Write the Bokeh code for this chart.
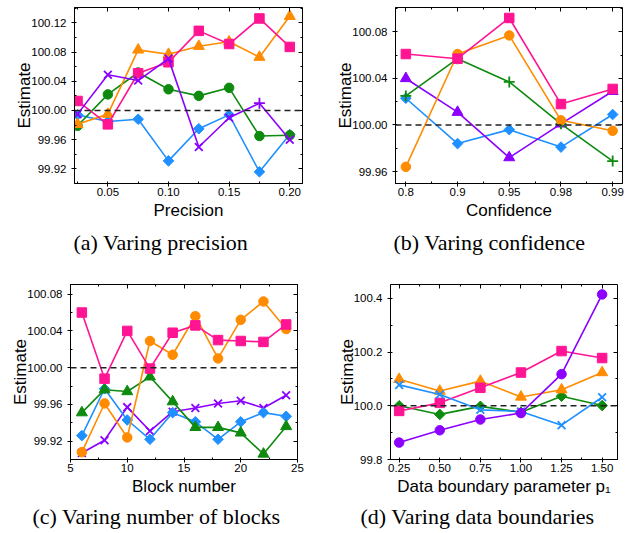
import numpy as np
from bokeh.plotting import figure
from bokeh.layouts import column, row
from bokeh.models import (Span, LinearAxis, Title, Range1d, SingleIntervalTicker,
                          NumeralTickFormatter, ColumnDataSource, CustomJSTickFormatter)
from bokeh.embed import file_html
from bokeh.resources import INLINE

# ---------------- data ----------------
# (a) varying precision
a_x = [0.025, 0.05, 0.075, 0.10, 0.125, 0.15, 0.175, 0.20]
a_pink = [100.013, 99.981, 100.051, 100.066, 100.109, 100.091, 100.126, 100.087]
a_orange = [99.981, 99.995, 100.083, 100.077, 100.088, 100.094, 100.073, 100.129]
a_green = [99.979, 100.022, 100.052, 100.029, 100.020, 100.031, 99.965, 99.966]
a_blue = [99.994, 99.985, 99.988, 99.931, 99.975, 99.994, 99.916, 99.967]
a_purple = [99.995, 100.049, 100.041, 100.071, 99.950, 99.990, 100.010, 99.960]
a_purple_markers = ["x", "x", "x", "x", "x", "x", "cross", "x"]

# (b) varying confidence
b_labels = ["0.8", "0.9", "0.95", "0.98", "0.99"]
b_pink = [100.061, 100.057, 100.092, 100.018, 100.031]
b_orange = [99.964, 100.061, 100.077, 100.004, 99.995]
b_green = [100.025, 100.057, 100.037, 100.001, 99.969]
b_purple = [100.040, 100.011, 99.972, 100.001, 100.029]
b_blue = [100.023, 99.984, 99.996, 99.981, 100.009]

# (c) varying number of blocks
c_x = [6, 8, 10, 12, 14, 16, 18, 20, 22, 24]
c_pink = [100.060, 99.988, 100.040, 99.999, 100.038, 100.046, 100.030, 100.029, 100.028, 100.047]
c_orange = [99.908, 99.961, 99.924, 100.029, 100.014, 100.056, 100.010, 100.052, 100.072, 100.042]
c_green = [99.951, 99.976, 99.974, 99.990, 99.963, 99.935, 99.935, 99.929, 99.906, 99.936]
c_blue = [99.926, 99.977, 99.943, 99.922, 99.951, 99.941, 99.922, 99.941, 99.951, 99.947]
c_purple = [99.907, 99.921, 99.957, 99.931, 99.952, 99.956, 99.961, 99.964, 99.956, 99.970]

# (d) varying data boundaries
d_x = [0.25, 0.50, 0.75, 1.00, 1.25, 1.50]
d_pink = [99.981, 100.011, 100.067, 100.124, 100.204, 100.178]
d_orange = [100.099, 100.055, 100.092, 100.033, 100.060, 100.124]
d_green = [100.000, 99.968, 99.998, 99.976, 100.036, 100.001]
d_blue = [100.078, 100.042, 99.985, 99.979, 99.928, 100.032]
d_purple = [99.863, 99.909, 99.949, 99.973, 100.118, 100.415]

true_value = 100.0

# ---------------- style ----------------
PINK = "#FF1493"
ORANGE = "#FF8C00"
GREEN = "#0E8A0E"
BLUE = "#1E90FF"
PURPLE = "#8B00FF"
SANS = "Liberation Sans"
SERIF = "Liberation Serif"

BLANK = CustomJSTickFormatter(code="return ''")


def build(width, height, bl, br, bt, bb, xr, yr, xint, yint, xfmt, yfmt,
          xlabel, caption, cap_offset, cap_standoff, x_overrides=None):
    p = figure(width=width, height=height, x_range=Range1d(*xr), y_range=Range1d(*yr),
               output_backend="svg", toolbar_location=None,
               min_border_left=bl, min_border_right=br,
               min_border_top=bt, min_border_bottom=bb)
    p.grid.visible = False
    p.outline_line_color = "black"
    p.outline_line_width = 1
    p.outline_line_alpha = 1
    p.background_fill_color = "white"
    p.border_fill_color = "white"

    xt = SingleIntervalTicker(interval=xint, num_minor_ticks=2)
    yt = SingleIntervalTicker(interval=yint, num_minor_ticks=2)
    xa = p.xaxis[0]
    ya = p.yaxis[0]
    xa.ticker = xt
    ya.ticker = yt
    if xfmt:
        xa.formatter = NumeralTickFormatter(format=xfmt)
    ya.formatter = NumeralTickFormatter(format=yfmt)
    if x_overrides:
        xa.major_label_overrides = x_overrides
    for ax in (xa, ya):
        ax.major_tick_out = 3
        ax.major_tick_in = 0
        ax.minor_tick_out = 0
        ax.minor_tick_in = 2
        ax.axis_line_color = "black"
        ax.major_tick_line_color = "black"
        ax.minor_tick_line_color = "black"
        ax.major_label_text_font = SANS
        ax.major_label_text_font_size = "11.5px"
        ax.major_label_text_color = "black"
        ax.axis_label_text_font = SANS
        ax.axis_label_text_font_size = "17px"
        ax.axis_label_text_font_style = "normal"
        ax.axis_label_text_color = "black"
    xa.major_label_standoff = 1
    ya.major_label_standoff = 5
    xa.axis_label = xlabel
    ya.axis_label = "Estimate"
    xa.axis_label_standoff = 2
    ya.axis_label_standoff = -6

    # mirrored tick axes (top, right) without labels
    top = LinearAxis(ticker=xt, formatter=BLANK, major_label_standoff=0,
                     major_tick_in=4, major_tick_out=0, minor_tick_in=2, minor_tick_out=0,
                     axis_line_color=None, major_tick_line_color="black",
                     minor_tick_line_color="black")
    right = LinearAxis(ticker=yt, formatter=BLANK, major_label_standoff=0,
                       major_tick_in=4, major_tick_out=0, minor_tick_in=2, minor_tick_out=0,
                       axis_line_color=None, major_tick_line_color="black",
                       minor_tick_line_color="black")
    p.add_layout(top, "above")
    p.add_layout(right, "right")

    p.add_layout(Span(location=true_value, dimension="width", line_color="#222222",
                      line_dash="6 4", line_width=1.5))

    t = Title(text=caption, align="left", offset=cap_offset, text_font=SERIF,
              text_font_size="22px", text_font_style="normal", text_color="black",
              standoff=cap_standoff)
    p.add_layout(t, "below")
    return p


def series(p, x, y, color, marker, size, angle=0.0):
    p.line(x, y, line_color=color, line_width=1.6)
    if isinstance(marker, list):
        src = ColumnDataSource(dict(x=x, y=y, m=marker))
        p.scatter("x", "y", marker="m", source=src, size=size, fill_color=color,
                  line_color=color, line_width=1.8)
    elif marker in ("x", "cross"):
        p.scatter(x, y, marker=marker, size=size, line_color=color, line_width=1.8)
    else:
        p.scatter(x, y, marker=marker, size=size, angle=angle, fill_color=color,
                  line_color=color, line_width=1)


DIAMOND = np.pi / 4

# (a)
pa = build(330, 262, 74, 28, 7, 79, (0.0225, 0.2105), (99.900, 100.141), 0.05, 0.04,
           "0.00", "0.00", "Precision", "(a)  Varing precision", -1, 11)
series(pa, a_x, a_blue, BLUE, "square", 7.5, DIAMOND)
series(pa, a_x, a_green, GREEN, "circle", 9.5)
series(pa, a_x, a_orange, ORANGE, "triangle", 11)
series(pa, a_x, a_pink, PINK, "square", 9.5)
series(pa, a_x, a_purple, PURPLE, a_purple_markers, 11)

# (b)
pb = build(299, 262, 65, 7, 7, 79, (-0.2, 4.19), (99.9497, 100.101), 1, 0.04,
           None, "0.00", "Confidence", "(b)  Varing confidence", -2, 11,
           x_overrides={i: lab for i, lab in enumerate(b_labels)})
b_x = list(range(len(b_labels)))
series(pb, b_x, b_blue, BLUE, "square", 7.5, DIAMOND)
series(pb, b_x, b_purple, PURPLE, "triangle", 11)
series(pb, b_x, b_green, GREEN, "cross", 11)
series(pb, b_x, b_orange, ORANGE, "circle", 9.5)
series(pb, b_x, b_pink, PINK, "square", 9.5)

# (c)
pc = build(330, 271, 70, 33, 22, 74, (5, 25), (99.900, 100.0905), 5, 0.04,
           "0", "0.00", "Block number", "(c)  Varing number of blocks", -38, 7)
series(pc, c_x, c_purple, PURPLE, "x", 11)
series(pc, c_x, c_blue, BLUE, "square", 7.5, DIAMOND)
series(pc, c_x, c_green, GREEN, "triangle", 11)
series(pc, c_x, c_orange, ORANGE, "circle", 9.5)
series(pc, c_x, c_pink, PINK, "square", 9.5)

# (d)
pd = build(299, 271, 60, 12, 22, 74, (0.1965, 1.5946), (99.8, 100.452), 0.25, 0.2,
           "0.00", "0.0", "Data boundary parameter p\u2081", "(d)  Varing data boundaries", -30, 7)
series(pd, d_x, d_green, GREEN, "square", 7.5, DIAMOND)
series(pd, d_x, d_orange, ORANGE, "triangle", 11)
series(pd, d_x, d_pink, PINK, "square", 9.5)
series(pd, d_x, d_blue, BLUE, "x", 11)
series(pd, d_x, d_purple, PURPLE, "circle", 9.5)

layout = column(row(pa, pb), row(pc, pd))

with open("out.html", "w") as f:
    f.write(file_html(layout, INLINE))
